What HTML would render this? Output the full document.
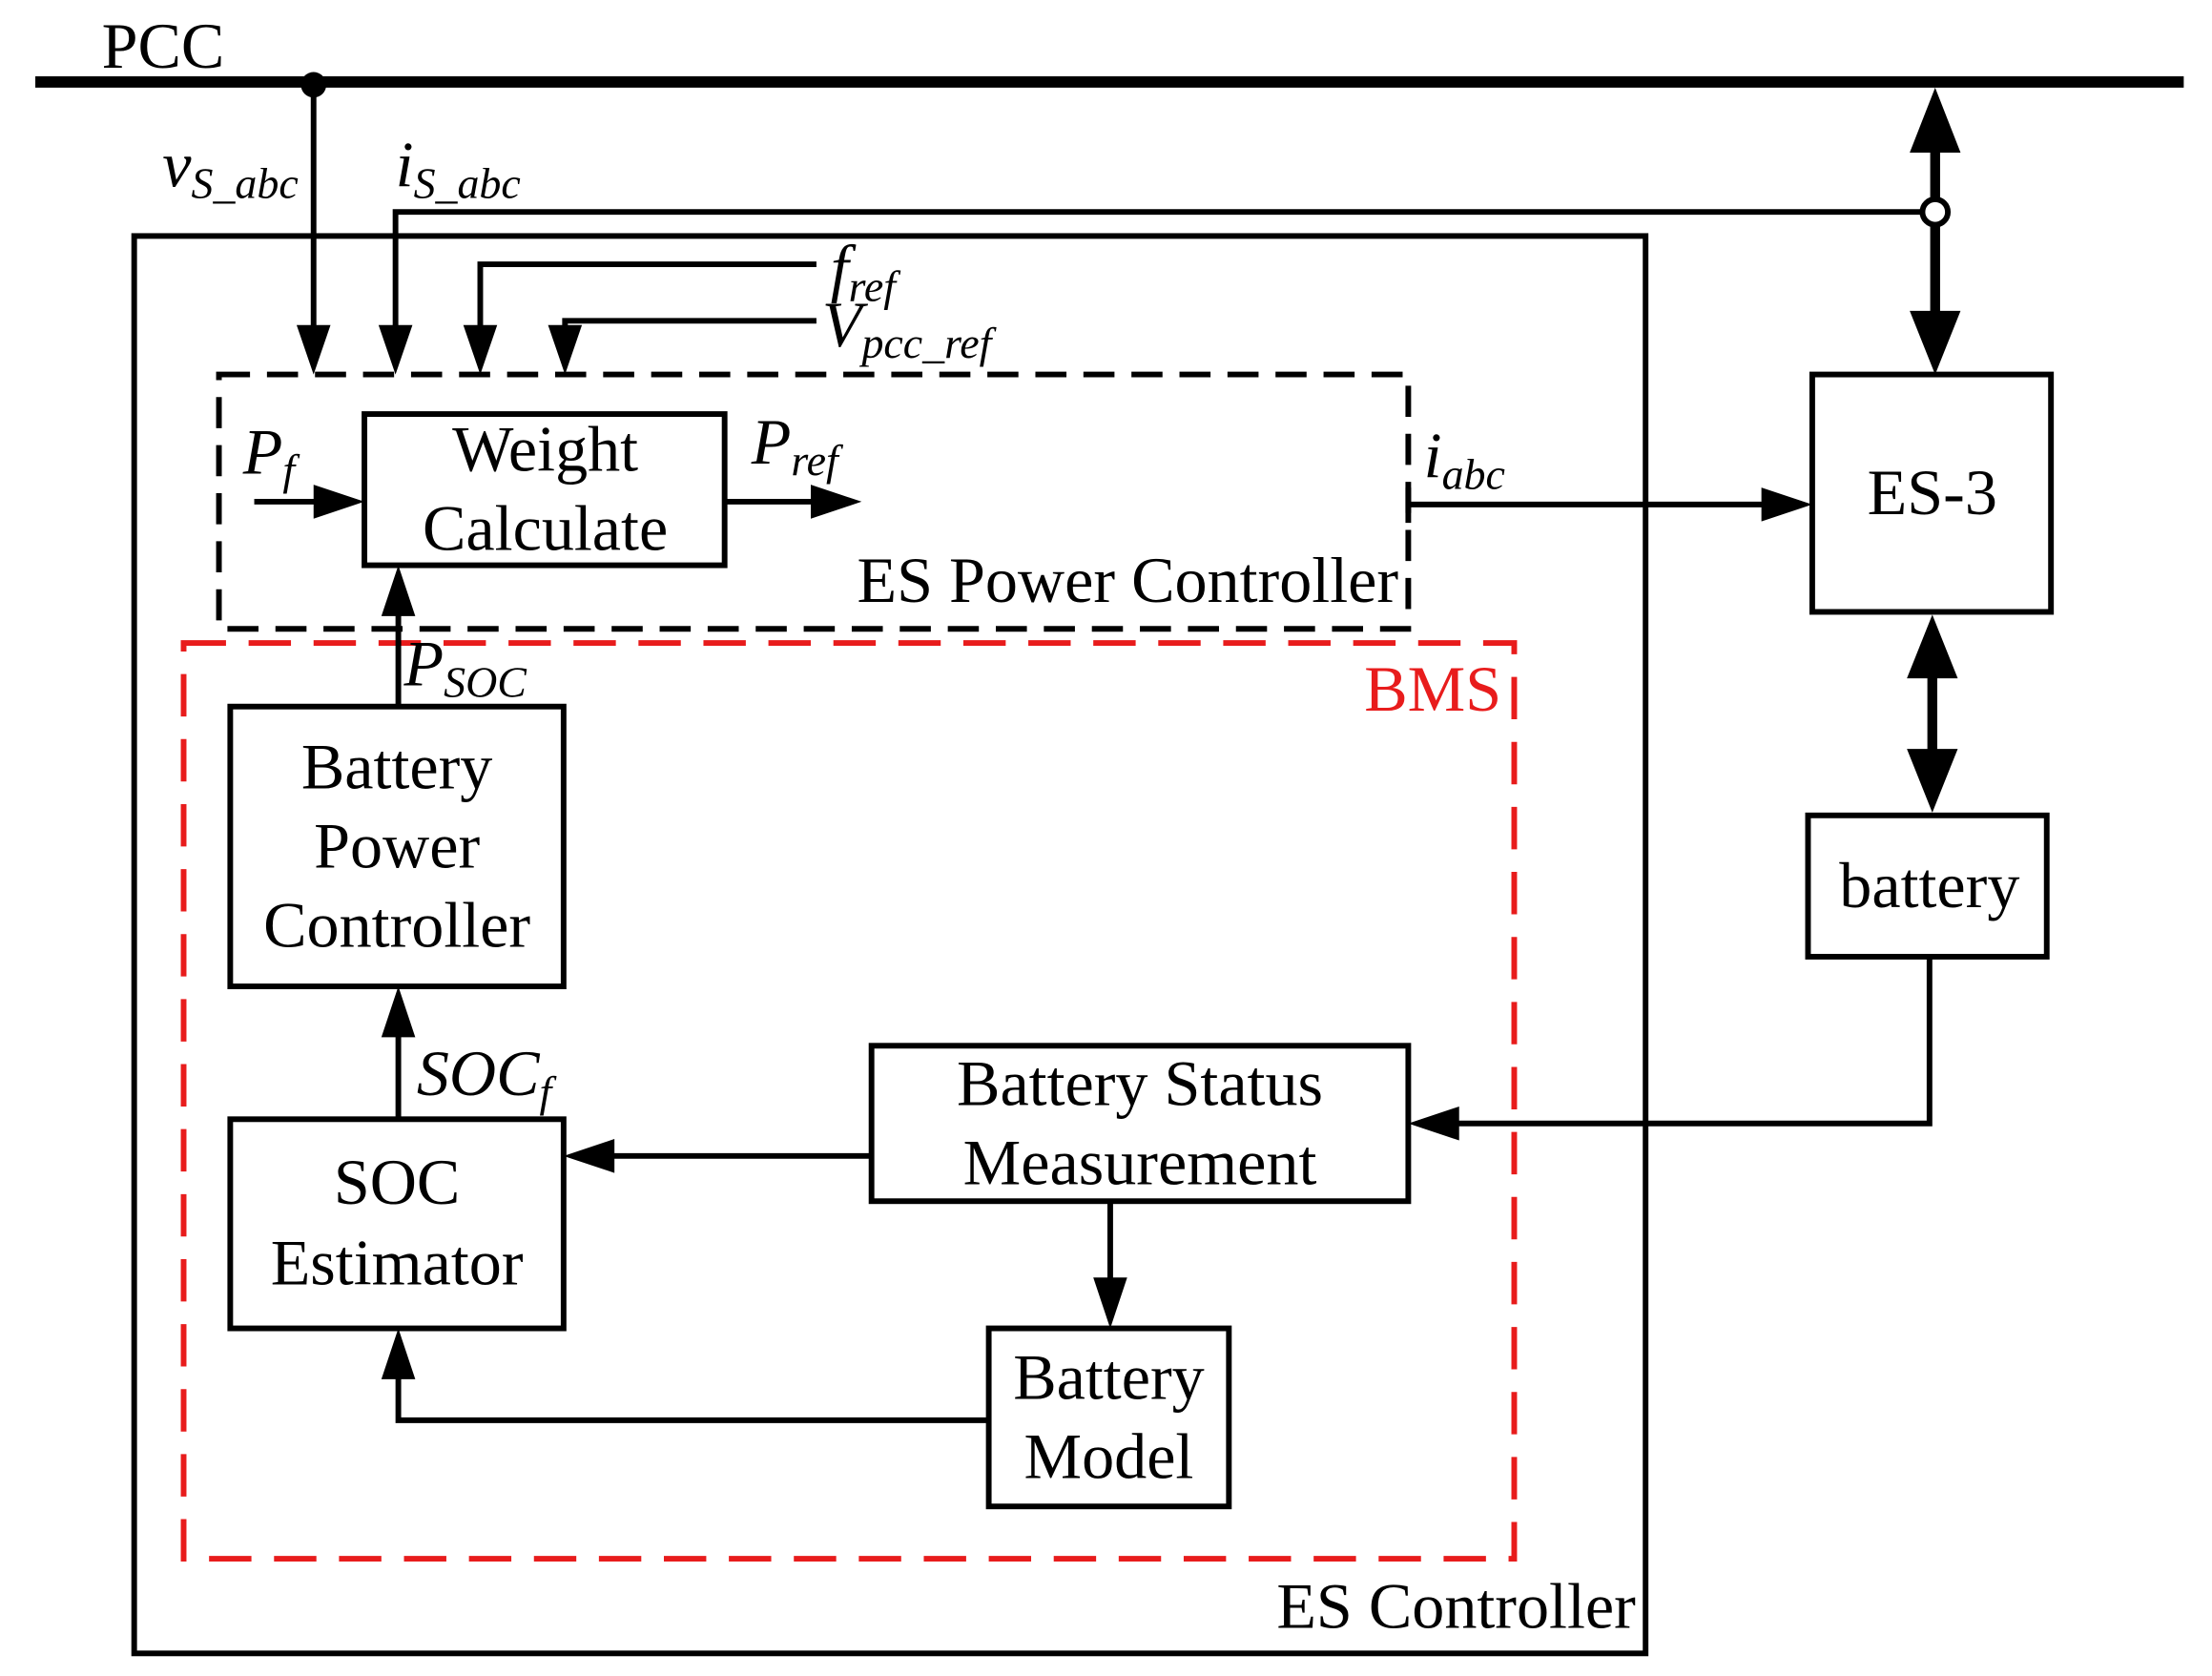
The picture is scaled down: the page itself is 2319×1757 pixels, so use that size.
<!DOCTYPE html>
<html><head><meta charset="utf-8"><style>
html,body{margin:0;padding:0;background:#fff;}
svg{display:block}
text{font-family:"Liberation Serif",serif;fill:#000}
</style></head><body>
<svg width="2319" height="1757" viewBox="0 0 1566 1186" preserveAspectRatio="none" xmlns="http://www.w3.org/2000/svg">
<g fill="none" stroke="#000">
<line x1="25" y1="58" x2="1546" y2="58" stroke-width="8"/>
<rect x="95" y="167" width="1070" height="1003" stroke-width="4"/>
<rect x="155" y="265" width="842" height="180" stroke-width="4" stroke-dasharray="22,12"/>
<rect x="130" y="455" width="942" height="648" stroke="#e81c1c" stroke-width="4" stroke-dasharray="30,16"/>
<rect x="258" y="293" width="255" height="107" stroke-width="4"/>
<rect x="1283" y="265" width="169" height="168" stroke-width="4"/>
<rect x="1280" y="577" width="169" height="100" stroke-width="4"/>
<rect x="163" y="500" width="236" height="198" stroke-width="4"/>
<rect x="163" y="792" width="236" height="148" stroke-width="4"/>
<rect x="617" y="740" width="380" height="110" stroke-width="4"/>
<rect x="700" y="940" width="170" height="126" stroke-width="4"/>
<g stroke-width="4">
<polyline points="222,60 222,240"/>
<polyline points="1362,150 280,150 280,240"/>
<polyline points="578,187 340,187 340,240"/>
<polyline points="578,227 400,227 400,240"/>
<line x1="180" y1="355" x2="232" y2="355"/>
<line x1="513" y1="355" x2="584" y2="355"/>
<line x1="997" y1="357" x2="1257" y2="357"/>
<polyline points="1366,677 1366,795 1023,795"/>
<line x1="282" y1="500" x2="282" y2="426"/>
<line x1="282" y1="792" x2="282" y2="724"/>
<line x1="617" y1="818" x2="425" y2="818"/>
<line x1="786" y1="850" x2="786" y2="914"/>
<polyline points="700,1005 282,1005 282,966"/>
<line x1="997" y1="345" x2="997" y2="370"/>
</g>
<line x1="1370" y1="90" x2="1370" y2="235" stroke-width="7"/>
<line x1="1368" y1="463" x2="1368" y2="547" stroke-width="7"/>
</g>
<g fill="#000">
<circle cx="222" cy="60" r="9"/>
<path d="M210,230 L234,230 L222,265 z"/>
<path d="M268,230 L292,230 L280,265 z"/>
<path d="M328,230 L352,230 L340,265 z"/>
<path d="M388,230 L412,230 L400,265 z"/>
<path d="M222,343 L222,367 L258,355 z"/>
<path d="M574,343 L574,367 L610,355 z"/>
<path d="M1247,345 L1247,369 L1283,357 z"/>
<path d="M1033,783 L1033,807 L997,795 z"/>
<path d="M270,436 L294,436 L282,400 z"/>
<path d="M270,734 L294,734 L282,698 z"/>
<path d="M435,806 L435,830 L399,818 z"/>
<path d="M774,904 L798,904 L786,940 z"/>
<path d="M270,976 L294,976 L282,940 z"/>
<path d="M1352,108 L1388,108 L1370,62 z"/>
<path d="M1352,220 L1388,220 L1370,265 z"/>
<path d="M1350,480 L1386,480 L1368,435 z"/>
<path d="M1350,530 L1386,530 L1368,575 z"/>
</g>
<circle cx="1370" cy="150" r="9" fill="#fff" stroke="#000" stroke-width="4"/>
<g font-size="46">
<text x="72" y="48">PCC</text>
<text x="115" y="132" font-style="italic">v<tspan font-size="31" dy="8">S_abc</tspan></text>
<text x="280" y="132" font-style="italic">i<tspan font-size="31" dy="8">S_abc</tspan></text>
<text x="588" y="205" font-style="italic">f<tspan font-size="31" dy="8">ref</tspan></text>
<text x="582" y="245" font-style="italic">V<tspan font-size="31" dy="8">pcc_ref</tspan></text>
<text x="172" y="335" font-style="italic">P<tspan font-size="31" dy="8">f</tspan></text>
<text x="532" y="328" font-style="italic">P<tspan font-size="31" dy="8">ref</tspan></text>
<text x="1008" y="338" font-style="italic">i<tspan font-size="31" dy="8">abc</tspan></text>
<text x="286" y="485" font-style="italic">P<tspan font-size="31" dy="8">SOC</tspan></text>
<text x="295" y="775" font-style="italic">SOC<tspan font-size="31" dy="8">f</tspan></text>
<text x="386" y="333" text-anchor="middle">Weight</text>
<text x="386" y="389" text-anchor="middle">Calculate</text>
<text x="990" y="426" text-anchor="end">ES Power Controller</text>
<text x="1368" y="364" text-anchor="middle">ES-3</text>
<text x="1366" y="642" text-anchor="middle">battery</text>
<text x="1063" y="503" text-anchor="end" style="fill:#e81c1c">BMS</text>
<text x="281" y="558" text-anchor="middle">Battery</text>
<text x="281" y="614" text-anchor="middle">Power</text>
<text x="281" y="670" text-anchor="middle">Controller</text>
<text x="281" y="852" text-anchor="middle">SOC</text>
<text x="281" y="909" text-anchor="middle">Estimator</text>
<text x="807" y="782" text-anchor="middle">Battery Status</text>
<text x="807" y="838" text-anchor="middle">Measurement</text>
<text x="785" y="990" text-anchor="middle">Battery</text>
<text x="785" y="1046" text-anchor="middle">Model</text>
<text x="1158" y="1152" text-anchor="end">ES Controller</text>
</g>
</svg>
</body></html>
